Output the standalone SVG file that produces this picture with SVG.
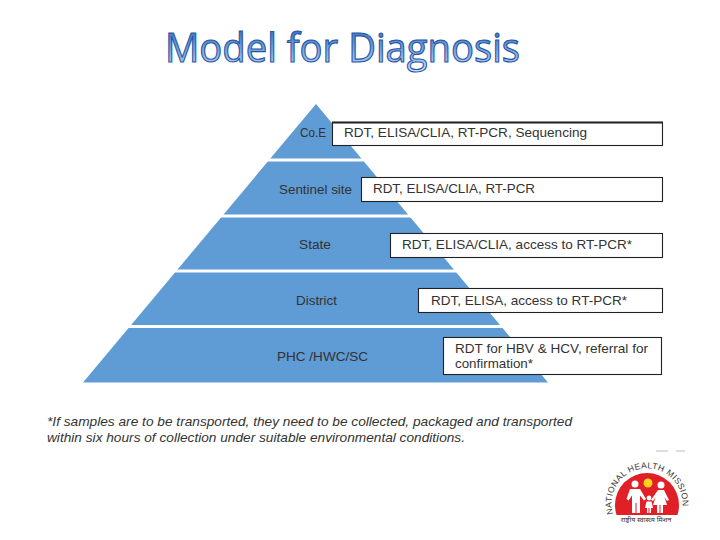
<svg xmlns="http://www.w3.org/2000/svg" width="720" height="540" viewBox="0 0 720 540">
<style>
.lbl{font-family:"Liberation Sans",Arial,sans-serif;font-size:13px;fill:#333}
.box{fill:#fff;stroke:#222;stroke-width:1.1}
.sep{stroke:#fff;stroke-width:3.2}
.note{font-family:"Liberation Sans",Arial,sans-serif;font-size:13px;font-style:italic;fill:#333}
.logo{font-family:"Liberation Sans",Arial,sans-serif;font-size:8.500px;fill:#333}
</style>
<defs>
<linearGradient id="tg" x1="0" y1="0" x2="0" y2="1">
<stop offset="0" stop-color="#2359ac"/><stop offset=".5" stop-color="#6f9ed8"/><stop offset="1" stop-color="#d4e4f6"/>
</linearGradient>
<path id="arc" d="M613 514 A35.500 35.500 0 1 1 681 514"/>
<clipPath id="dome"><rect x="600" y="460" width="100" height="55"/></clipPath>
</defs>
<rect width="720" height="540" fill="#fff"/>
<g id="title"><text x="165" y="62" font-family="'Open Sans','DejaVu Sans',sans-serif" font-size="40" font-weight="500" textLength="355" lengthAdjust="spacingAndGlyphs" fill="url(#tg)" stroke="#1f54a6" stroke-width="1.1">Model for Diagnosis</text></g>
<g id="pyramid">
<polygon points="316,104 548,382.500 83,382.500" fill="#5f9bd4"/>
<line class="sep" x1="240" y1="160" x2="395" y2="160"/>
<line class="sep" x1="180" y1="216" x2="450" y2="216"/>
<line class="sep" x1="140" y1="271" x2="500" y2="271"/>
<line class="sep" x1="100" y1="326.500" x2="540" y2="326.500"/>
</g>
<g id="node-coe">
<text class="lbl" x="300" y="137" textLength="26" lengthAdjust="spacingAndGlyphs">Co.E</text>
<rect class="box" x="332.500" y="122.500" width="330" height="23"/>
<line x1="332" y1="122.500" x2="663" y2="122.500" stroke="#222" stroke-width="2"/>
<text class="lbl" x="344" y="136.500" textLength="243" lengthAdjust="spacingAndGlyphs">RDT, ELISA/CLIA, RT-PCR, Sequencing</text>
</g>
<g id="node-sentinel">
<text class="lbl" x="279" y="194" textLength="73" lengthAdjust="spacingAndGlyphs">Sentinel site</text>
<rect class="box" x="361.500" y="177.500" width="301" height="24"/>
<text class="lbl" x="373" y="192.500" textLength="162" lengthAdjust="spacingAndGlyphs">RDT, ELISA/CLIA, RT-PCR</text>
</g>
<g id="node-state">
<text class="lbl" x="299" y="249" textLength="32" lengthAdjust="spacingAndGlyphs">State</text>
<rect class="box" x="390.500" y="233.500" width="272" height="24"/>
<text class="lbl" x="402" y="248.500" textLength="230" lengthAdjust="spacingAndGlyphs">RDT, ELISA/CLIA, access to RT-PCR*</text>
</g>
<g id="node-district">
<text class="lbl" x="296" y="305" textLength="41" lengthAdjust="spacingAndGlyphs">District</text>
<rect class="box" x="418.500" y="288.500" width="244" height="24"/>
<text class="lbl" x="431" y="304.500" textLength="196" lengthAdjust="spacingAndGlyphs">RDT, ELISA, access to RT-PCR*</text>
</g>
<g id="node-phc">
<text class="lbl" x="277" y="361" textLength="91" lengthAdjust="spacingAndGlyphs">PHC /HWC/SC</text>
<rect class="box" x="443.500" y="337.500" width="218" height="37"/>
<text class="lbl" x="455" y="353" textLength="193" lengthAdjust="spacingAndGlyphs">RDT for HBV &amp; HCV, referral for</text>
<text class="lbl" x="455" y="368" textLength="78" lengthAdjust="spacingAndGlyphs">confirmation*</text>
</g>
<g id="footnote">
<text class="note" x="47" y="426" textLength="525" lengthAdjust="spacingAndGlyphs">*If samples are to be transported, they need to be collected, packaged and transported</text>
<text class="note" x="47" y="442" textLength="418" lengthAdjust="spacingAndGlyphs">within six hours of collection under suitable environmental conditions.</text>
</g>
<g id="logo">
<line x1="656" y1="451" x2="668" y2="451" stroke="#bbb"/><line x1="676" y1="451" x2="685" y2="451" stroke="#bbb"/>
<circle cx="647" cy="505" r="32" fill="#e01f26" clip-path="url(#dome)"/>
<circle cx="648" cy="483" r="4.500" fill="#ffd21f"/>
<g fill="#fff">
<circle cx="635" cy="484" r="3.500"/><path d="M630 489h10l6 10-2 1.500-4-5v17.500h-3.500v-10h-1v10H632v-17.500l-3.500 5-2-1.500z"/>
<circle cx="661" cy="485" r="3.500"/><path d="M658 490h6l5 10-2 1-2.500-4 2.500 8h-4v8h-2.500v-8h-1v8H657v-8h-4l2.500-8-2.500 4-2-1z"/>
<circle cx="649" cy="498" r="2.400"/><path d="M646.500 501.500h5l1.500 6.500h-2v5h-1.500v-5h-1v5H647v-5h-2z"/>
</g>
<text class="logo"><textPath href="#arc" textLength="124" lengthAdjust="spacing">NATIONAL HEALTH MISSION</textPath></text>
<text x="646" y="522" text-anchor="middle" font-family="'Noto Sans','Noto Sans CJK SC',sans-serif" font-size="7" fill="#333">राष्ट्रीय स्वास्थ्य मिशन</text>
</g>
</svg>
